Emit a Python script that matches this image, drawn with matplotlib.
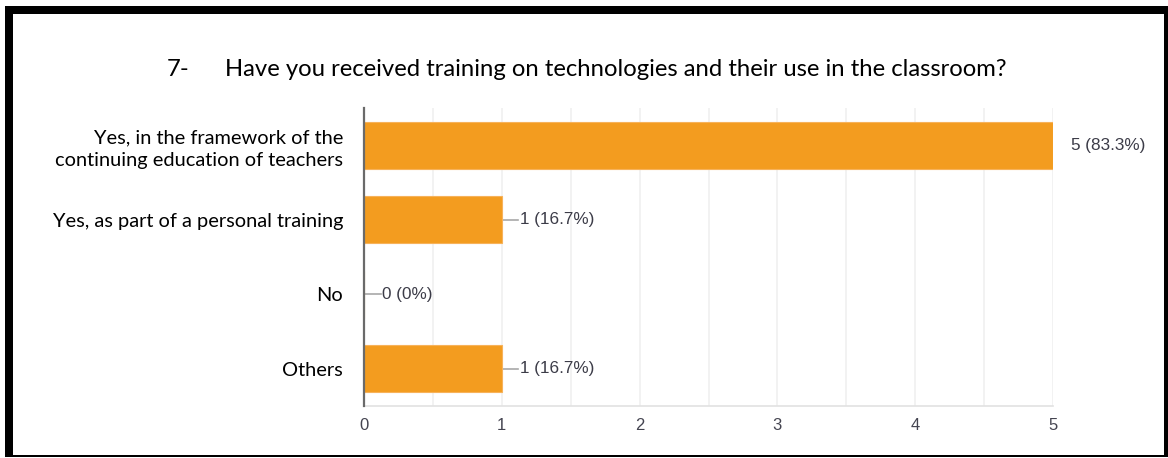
import matplotlib
matplotlib.use("Agg")
import matplotlib.pyplot as plt
from matplotlib.patches import Rectangle

# Survey answers, question 7
categories = ["Yes, in the framework of the\ncontinuing education of teachers",
              "Yes, as part of a personal training",
              "No",
              "Others"]
counts = [5, 1, 0, 1]
percents = ["83.3%", "16.7%", "0%", "16.7%"]
xticks = [0, 1, 2, 3, 4, 5]

title_num = "7-"
title_text = "Have you received training on technologies and their use in the classroom?"

W, H = 1168, 458
fig = plt.figure(figsize=(W / 100, H / 100), dpi=100)
fig.patch.set_facecolor("white")


def px(x0, y0, x1, y1):
    # pixel box (top-left origin) -> figure fraction rect
    return [x0 / W, 1 - y1 / H, (x1 - x0) / W, (y1 - y0) / H]


# black frame round the chart
for x0, y0, x1, y1 in [(5, 6, 13, 457), (5, 6, 1168, 14),
                       (1164, 6, 1168, 457), (5, 455, 1168, 457)]:
    r = px(x0, y0, x1, y1)
    fig.patches.append(Rectangle((r[0], r[1]), r[2], r[3], transform=fig.transFigure,
                                 facecolor="black", edgecolor="none", zorder=5))

ax = fig.add_axes(px(364, 108, 1053, 406))
ypos = list(range(len(categories)))
ax.barh(ypos, counts, height=0.63, color="#f39c1f", edgecolor="#f7b25a", linewidth=0.8, zorder=3)
ax.set_xlim(0, 5)
ax.set_ylim(3.5, -0.5)

# light grid every half step, labels on whole numbers
ax.set_xticks(xticks)
ax.set_xticks([i + 0.5 for i in range(5)], minor=True)
ax.grid(axis="x", which="both", color="#f0f0f0", linewidth=1.2, zorder=0)
ax.set_xticklabels([str(t) for t in xticks], fontfamily="Liberation Sans", fontsize=12, color="#444450")
ax.tick_params(axis="x", length=0, pad=9)
ax.tick_params(axis="x", which="minor", length=0)
ax.tick_params(axis="y", length=0, pad=15)
ax.set_yticks(ypos)
ax.set_yticklabels(categories, fontfamily="Lato", fontsize=14.4, color="black", linespacing=1.4)

ax.spines["top"].set_visible(False)
ax.spines["right"].set_visible(False)
ax.spines["left"].set_color("#6a6a6a")
ax.spines["left"].set_linewidth(1.6)
ax.spines["left"].set_zorder(4)
ax.spines["bottom"].set_color("#e2e2e2")
ax.spines["bottom"].set_linewidth(1.2)

# value labels with a short leader line
lead = 0.12
for y, c, p in zip(ypos, counts, percents):
    ax.plot([c, c + lead], [y, y], color="#a8a8a8", linewidth=1.2, zorder=2)
    ax.text(c + lead + 0.01, y, f"{c} ({p})", va="center", ha="left",
            fontfamily="Liberation Sans", fontsize=12.3, color="#3c3c48", clip_on=False)

fig.text(167 / W, 1 - 70 / H, title_num, fontfamily="Lato", fontsize=17.2, va="center", ha="left")
fig.text(225 / W, 1 - 70 / H, title_text, fontfamily="Lato", fontsize=17.2, va="center", ha="left")

fig.savefig("out.png", dpi=100)
